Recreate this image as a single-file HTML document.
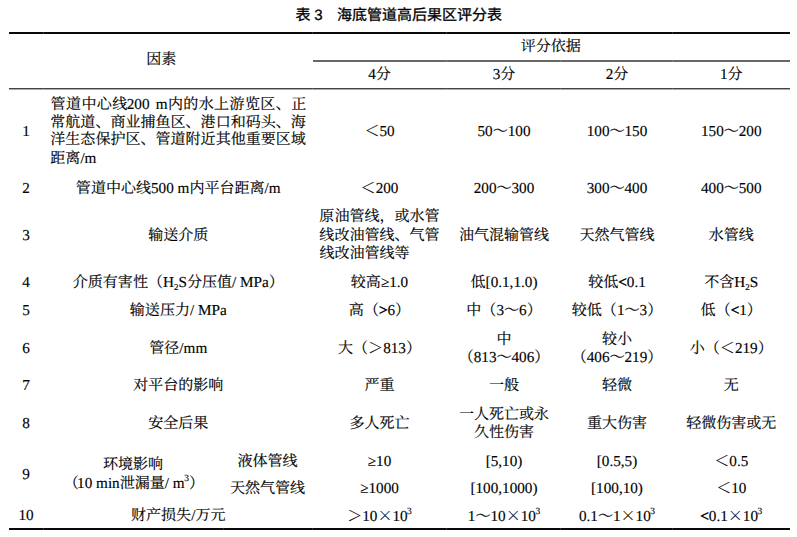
<!DOCTYPE html>
<html lang="zh"><head><meta charset="utf-8"><title>表 3 海底管道高后果区评分表</title>
<style>
html,body{margin:0;padding:0;background:#fff}
body{width:797px;height:537px;position:relative;overflow:hidden;font-family:"Liberation Serif","Noto Serif CJK SC",serif;font-size:15.2px;color:#000;text-rendering:geometricPrecision;-webkit-font-smoothing:antialiased}
.t{position:absolute;height:18px;line-height:18px;text-align:center;white-space:pre}
.t{-webkit-text-stroke:0.15px #000}
.t.l{text-align:left}
.t.b{font-family:"Liberation Sans","Noto Sans CJK SC",sans-serif;font-size:15px;-webkit-text-stroke:0.3px #000}
.r{position:absolute}
.k{-webkit-text-stroke:0.5px #000}
.c{font-family:"Liberation Serif","Noto Serif CJK SC",serif;font-size:15.04px}
.b .c{font-family:"Liberation Sans","Noto Sans CJK SC",sans-serif;font-size:15px}
.x{font-family:"Noto Serif CJK SC","Liberation Serif",serif;font-size:15.04px;display:inline-block;width:15.04px;text-align:center}
sub,sup{line-height:0}
sub{font-size:9px}
sup{font-size:9.5px}
sub{vertical-align:-3px}
sup{vertical-align:7px;margin-left:-0.5px}
</style></head><body>
<div class="r" style="left:9px;width:780.5px;top:32px;height:2px;background:#0a0a0a"></div>
<div class="r" style="left:313px;width:476.5px;top:60px;height:2px;background:#686868"></div>
<div class="r" style="left:9px;width:780.5px;top:88px;height:1px;background:#444"></div>
<div class="r" style="left:9px;width:780.5px;top:89px;height:1px;background:#aaa"></div>
<div class="r" style="left:9px;width:780.5px;top:528px;height:2px;background:#0a0a0a"></div>
<div class="r" style="left:43px;width:1px;top:32px;height:2px;background:rgba(255,255,255,.16)"></div>
<div class="r" style="left:43px;width:1px;top:88px;height:2px;background:rgba(255,255,255,.16)"></div>
<div class="r" style="left:43px;width:1px;top:528px;height:2px;background:rgba(255,255,255,.16)"></div>
<div class="r" style="left:312px;width:1px;top:32px;height:2px;background:rgba(255,255,255,.16)"></div>
<div class="r" style="left:312px;width:1px;top:88px;height:2px;background:rgba(255,255,255,.16)"></div>
<div class="r" style="left:312px;width:1px;top:528px;height:2px;background:rgba(255,255,255,.16)"></div>
<div class="r" style="left:446px;width:1px;top:32px;height:2px;background:rgba(255,255,255,.16)"></div>
<div class="r" style="left:446px;width:1px;top:60px;height:2px;background:rgba(255,255,255,.16)"></div>
<div class="r" style="left:446px;width:1px;top:88px;height:2px;background:rgba(255,255,255,.16)"></div>
<div class="r" style="left:446px;width:1px;top:528px;height:2px;background:rgba(255,255,255,.16)"></div>
<div class="r" style="left:560px;width:1px;top:32px;height:2px;background:rgba(255,255,255,.16)"></div>
<div class="r" style="left:560px;width:1px;top:60px;height:2px;background:rgba(255,255,255,.16)"></div>
<div class="r" style="left:560px;width:1px;top:88px;height:2px;background:rgba(255,255,255,.16)"></div>
<div class="r" style="left:560px;width:1px;top:528px;height:2px;background:rgba(255,255,255,.16)"></div>
<div class="r" style="left:672px;width:1px;top:32px;height:2px;background:rgba(255,255,255,.16)"></div>
<div class="r" style="left:672px;width:1px;top:60px;height:2px;background:rgba(255,255,255,.16)"></div>
<div class="r" style="left:672px;width:1px;top:88px;height:2px;background:rgba(255,255,255,.16)"></div>
<div class="r" style="left:672px;width:1px;top:528px;height:2px;background:rgba(255,255,255,.16)"></div>
<div class="r" style="left:223px;width:1px;top:528px;height:2px;background:rgba(255,255,255,.16)"></div>
<div class="t b" style="left:0.3px;width:797px;top:6.57px"><span class="c">表</span> <i style="margin-left:-0.47px"></i>3 <i style="margin-left:10.33px"></i><span class="c">海底管道高后果区评分表</span></div>
<div class="t" style="left:9px;width:304.5px;top:51.47px"><span class="c">因素</span></div>
<div class="t" style="left:312px;width:477.5px;top:38px"><span class="c">评分依据</span></div>
<div class="t" style="left:312px;width:135px;top:66.37px">4<span class="c">分</span></div>
<div class="t" style="left:447px;width:114px;top:66.37px">3<span class="c">分</span></div>
<div class="t" style="left:561px;width:112px;top:66.37px">2<span class="c">分</span></div>
<div class="t" style="left:673px;width:116.5px;top:66.37px">1<span class="c">分</span></div>
<div class="t" style="left:9px;width:34px;top:123px">1</div>
<div class="t l" style="left:50.3px;width:261.7px;top:96px"><span class="c" style="letter-spacing:0.42px;margin-left:0.2px">管道中心线</span></div>
<div class="t l" style="left:126.7px;width:185.3px;top:96px">200 </div>
<div class="t l" style="left:155.7px;width:156.3px;top:96px">m</div>
<div class="t l" style="left:167.7px;width:144.3px;top:96px"><span class="c" style="letter-spacing:0.38px;margin-left:0.2px">内的水上游览区、正</span></div>
<div class="t l" style="left:50.3px;width:261.7px;top:114px"><span class="c">常航道、商业捕鱼区、港口和码头、海</span></div>
<div class="t l" style="left:50.3px;width:261.7px;top:131.17px"><span class="c">洋生态保护区、管道附近其他重要区域</span></div>
<div class="t l" style="left:50.3px;width:261.7px;top:150px"><span class="c">距离</span>/m</div>
<div class="t" style="left:312px;width:135px;top:123px"><span class="c">＜</span>50</div>
<div class="t" style="left:447px;width:114px;top:123px">50<span class="c">～</span>100</div>
<div class="t" style="left:561px;width:112px;top:123px">100<span class="c">～</span>150</div>
<div class="t" style="left:673px;width:116.5px;top:123px">150<span class="c">～</span>200</div>
<div class="t" style="left:9px;width:34px;top:180px">2</div>
<div class="t" style="left:43.5px;width:269.5px;top:180px"><span class="c">管道中心线</span>500 m<span class="c">内平台距离</span>/m</div>
<div class="t" style="left:312px;width:135px;top:180px"><span class="c">＜</span>200</div>
<div class="t" style="left:447px;width:114px;top:180px">200<span class="c">～</span>300</div>
<div class="t" style="left:561px;width:112px;top:180px">300<span class="c">～</span>400</div>
<div class="t" style="left:673px;width:116.5px;top:180px">400<span class="c">～</span>500</div>
<div class="t" style="left:9px;width:34px;top:227px">3</div>
<div class="t" style="left:43.5px;width:269.5px;top:227px"><span class="c">输送介质</span></div>
<div class="t" style="left:312px;width:135px;top:208.37px"><span class="c">原油管线，或水管</span></div>
<div class="t" style="left:312px;width:135px;top:227px"><span class="c">线改油管线、气管</span></div>
<div class="t" style="left:312px;width:135px;top:245px"><span class="c">线改油管线等</span><i style="margin-left:30px"></i></div>
<div class="t" style="left:447px;width:114px;top:227px"><span class="c">油气混输管线</span></div>
<div class="t" style="left:561px;width:112px;top:227px"><span class="c">天然气管线</span></div>
<div class="t" style="left:673px;width:116.5px;top:227px"><span class="c">水管线</span></div>
<div class="t" style="left:9px;width:34px;top:274px">4</div>
<div class="t" style="left:43.5px;width:269.5px;top:274px"><span class="c">介质有害性（</span>H<sub>2</sub>S<span class="c">分压值</span>/ MPa<span class="c">）</span></div>
<div class="t" style="left:312px;width:135px;top:274px"><span class="c">较高</span>≥1.0</div>
<div class="t" style="left:447px;width:114px;top:274px"><span class="c">低</span>[0.1,1.0)</div>
<div class="t" style="left:561px;width:112px;top:274px"><span class="c">较低</span><span class="k">&lt;</span>0.1</div>
<div class="t" style="left:673px;width:116.5px;top:274px"><span class="c">不含</span>H<sub>2</sub>S</div>
<div class="t" style="left:9px;width:34px;top:302px">5</div>
<div class="t" style="left:43.5px;width:269.5px;top:302px"><span class="c">输送压力</span>/ MPa</div>
<div class="t" style="left:312px;width:135px;top:302px"><span class="c">高（</span><span class="k">&gt;</span>6<span class="c">）</span></div>
<div class="t" style="left:447px;width:114px;top:302px"><span class="c">中（</span>3<span class="c">～</span>6<span class="c">）</span></div>
<div class="t" style="left:561px;width:112px;top:302px"><span class="c">较低（</span>1<span class="c">～</span>3<span class="c">）</span></div>
<div class="t" style="left:673px;width:116.5px;top:302px"><span class="c">低（</span><span class="k">&lt;</span>1<span class="c">）</span></div>
<div class="t" style="left:9px;width:34px;top:340px">6</div>
<div class="t" style="left:43.5px;width:269.5px;top:340px"><span class="c">管径</span>/mm</div>
<div class="t" style="left:312px;width:135px;top:340px"><span class="c">大（＞</span>813<span class="c">）</span></div>
<div class="t" style="left:447px;width:114px;top:331px"><span class="c">中</span></div>
<div class="t" style="left:447px;width:114px;top:349.37px"><span class="c">（</span>813<span class="c">～</span>406<span class="c">）</span></div>
<div class="t" style="left:561px;width:112px;top:331px"><span class="c">较小</span></div>
<div class="t" style="left:561px;width:112px;top:349.37px"><span class="c">（</span>406<span class="c">～</span>219<span class="c">）</span></div>
<div class="t" style="left:673px;width:116.5px;top:340px"><span class="c">小（＜</span>219<span class="c">）</span></div>
<div class="t" style="left:9px;width:34px;top:377px">7</div>
<div class="t" style="left:43.5px;width:269.5px;top:377px"><span class="c">对平台的影响</span></div>
<div class="t" style="left:312px;width:135px;top:377px"><span class="c">严重</span></div>
<div class="t" style="left:447px;width:114px;top:377px"><span class="c">一般</span></div>
<div class="t" style="left:561px;width:112px;top:377px"><span class="c">轻微</span></div>
<div class="t" style="left:673px;width:116.5px;top:377px"><span class="c">无</span></div>
<div class="t" style="left:9px;width:34px;top:415px">8</div>
<div class="t" style="left:43.5px;width:269.5px;top:415px"><span class="c">安全后果</span></div>
<div class="t" style="left:312px;width:135px;top:415px"><span class="c">多人死亡</span></div>
<div class="t" style="left:447px;width:114px;top:406px"><span class="c">一人死亡或永</span></div>
<div class="t" style="left:447px;width:114px;top:424px"><span class="c">久性伤害</span></div>
<div class="t" style="left:561px;width:112px;top:415px"><span class="c">重大伤害</span></div>
<div class="t" style="left:673px;width:116.5px;top:415px"><span class="c">轻微伤害或无</span></div>
<div class="t" style="left:9px;width:34px;top:466px">9</div>
<div class="t" style="left:43px;width:180px;top:456.37px"><span class="c">环境影响</span></div>
<div class="t" style="left:44.6px;width:178.4px;top:475px"><span class="c">（</span><i style="margin-left:-1.6px"></i>10 min<span class="c">泄漏量</span>/ m<sup>3</sup><span class="c">）</span></div>
<div class="t" style="left:223px;width:89px;top:453px"><span class="c">液体管线</span></div>
<div class="t" style="left:223px;width:89px;top:480px"><span class="c">天然气管线</span></div>
<div class="t" style="left:312px;width:135px;top:453px">≥10</div>
<div class="t" style="left:312px;width:135px;top:480px">≥1000</div>
<div class="t" style="left:447px;width:114px;top:453px">[5,10)</div>
<div class="t" style="left:447px;width:114px;top:480px">[100,1000)</div>
<div class="t" style="left:561px;width:112px;top:453px">[0.5,5)</div>
<div class="t" style="left:561px;width:112px;top:480px">[100,10)</div>
<div class="t" style="left:673px;width:116.5px;top:453px"><span class="c">＜</span>0.5</div>
<div class="t" style="left:673px;width:116.5px;top:480px"><span class="c">＜</span>10</div>
<div class="t" style="left:9px;width:34px;top:507px">10</div>
<div class="t" style="left:43.5px;width:269.5px;top:507px"><span class="c">财产损失</span>/<span class="c">万元</span></div>
<div class="t" style="left:312px;width:135px;top:507px"><span class="c">＞</span>10<span class="x">×</span>10<sup>3</sup></div>
<div class="t" style="left:447px;width:114px;top:507px">1<span class="c">～</span>10<span class="x">×</span>10<sup>3</sup></div>
<div class="t" style="left:561px;width:112px;top:507px">0.1<span class="c">～</span>1<span class="x">×</span>10<sup>3</sup></div>
<div class="t" style="left:673px;width:116.5px;top:507px"><span class="k">&lt;</span>0.1<span class="x">×</span>10<sup>3</sup></div>
</body></html>
